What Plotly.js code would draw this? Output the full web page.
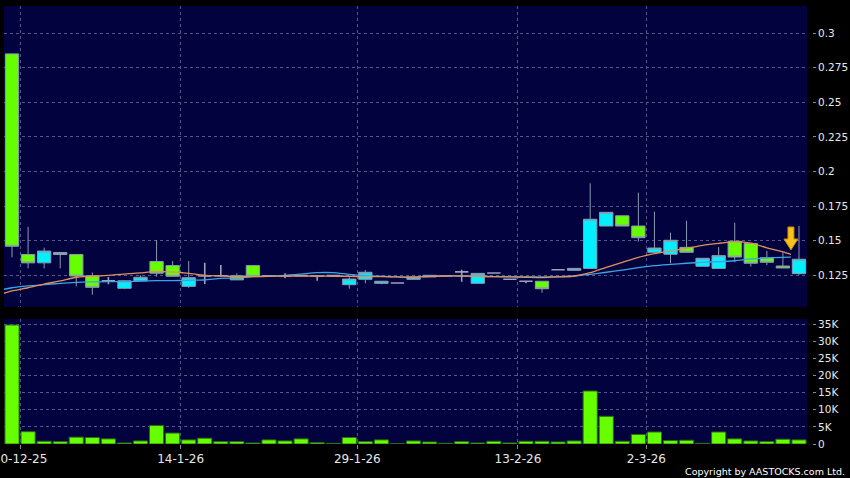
<!DOCTYPE html>
<html><head><meta charset="utf-8">
<script src="https://cdn.plot.ly/plotly-3.0.1.min.js"></script>
<style>html,body{margin:0;padding:0;background:#000;}#chart{width:850px;height:478px;}</style>
</head><body><div id="chart"></div>
<script>
// ---- data ----
const openP  = [0.285,0.140,0.134,0.1415,0.140,0.1247,0.121,0.1156,0.121,0.135,
                0.132,0.117,0.1245,0.1247,0.1247,0.132,0.1247,0.1245,0.1248,0.1245,
                0.1248,0.1182,0.1221,0.1192,0.1194,0.1221,0.1238,0.1245,0.1275,0.1192,
                0.1267,0.1221,0.1207,0.1207,0.129,0.1286,0.130,0.1606,0.168,0.1606,
                0.1416,0.1402,0.1452,0.1315,0.130,0.1496,0.148,0.1377,0.1317,0.1262];
const highP  = [0.285,0.160,0.145,0.1415,0.140,0.127,0.1238,0.1215,0.125,0.1505,
                0.1353,0.1353,0.134,0.1325,0.1264,0.132,0.1247,0.1264,0.1248,0.1245,
                0.1248,0.124,0.1288,0.1207,0.1194,0.1235,0.125,0.1245,0.129,0.1264,
                0.1267,0.1221,0.1207,0.1207,0.129,0.130,0.1915,0.1705,0.168,0.1847,
                0.171,0.1558,0.1644,0.1373,0.1454,0.163,0.148,0.1426,0.1416,0.1606];
const lowP   = [0.138,0.130,0.130,0.130,0.117,0.111,0.1185,0.115,0.121,0.124,
                0.1243,0.116,0.1187,0.1247,0.1217,0.1243,0.1247,0.1228,0.1248,0.121,
                0.1248,0.1153,0.1192,0.1185,0.1194,0.1221,0.1238,0.1245,0.1204,0.1192,
                0.1267,0.1221,0.1192,0.1124,0.129,0.1286,0.130,0.1606,0.1606,0.1493,
                0.1416,0.1337,0.1416,0.1315,0.130,0.1344,0.1312,0.1324,0.1303,0.1252];
const closeP = [0.146,0.134,0.1425,0.140,0.1245,0.1163,0.121,0.121,0.1236,0.1265,
                0.1243,0.1233,0.1245,0.1247,0.1217,0.1243,0.1247,0.1245,0.1248,0.1245,
                0.1248,0.1223,0.1272,0.1207,0.1194,0.1235,0.125,0.1245,0.1275,0.1264,
                0.1267,0.1221,0.1207,0.1153,0.129,0.130,0.1655,0.1705,0.1606,0.1522,
                0.1447,0.1503,0.1416,0.1373,0.1392,0.1382,0.1337,0.1344,0.1303,0.1366];
const volume = [34800,3600,800,700,2000,1900,1500,300,900,5400,
                3200,1200,1700,700,700,300,1200,900,1500,400,
                200,1900,700,1200,100,900,600,200,700,300,
                800,300,800,800,600,900,15500,8100,800,2800,
                3500,1000,1100,200,3500,1500,900,700,1400,1200];
// moving averages, sampled at these slot positions
const maPos = [-0.5,0,1,2,3,4,5,6,7,8,9,10,11,12,13,14,15,16,17,18,19,20,21,22,23,24,
               25,26,27,28,29,30,31,32,33,34,35,36,37,38,39,40,41,42,43,44,45,46,47,48,48.5];
const maShort = [0.1120,0.1137,0.1160,0.1187,0.1209,0.1236,0.1243,0.1250,0.1259,0.1267,0.1279,
                 0.1274,0.1264,0.1250,0.1245,0.1240,0.1240,0.1243,0.1245,0.1245,0.1245,0.1243,
                 0.1243,0.1240,0.1240,0.1238,0.1236,0.1243,0.1245,0.1245,0.1243,0.1240,0.1238,
                 0.1236,0.1233,0.1238,0.1245,0.1269,0.1308,0.1344,0.1380,0.1406,0.1426,0.1445,
                 0.1467,0.1481,0.1491,0.1483,0.1449,0.1420,0.1402];
const maLong  = [0.1149,0.1160,0.1173,0.1182,0.1192,0.1199,0.1202,0.1204,0.1204,0.1209,0.1211,
                 0.1211,0.1214,0.1216,0.1228,0.1230,0.1240,0.1245,0.1250,0.1259,0.1269,0.1269,
                 0.1257,0.1248,0.1243,0.1238,0.1238,0.1243,0.1245,0.1245,0.1243,0.1240,0.1240,
                 0.1238,0.1238,0.1240,0.1243,0.1257,0.1272,0.1288,0.1305,0.1320,0.1329,0.1337,
                 0.1344,0.1348,0.1355,0.1368,0.1375,0.1380,0.1382];
const tickIdx    = [0,10,21,31,39];
const tickLabels = ['30-12-25','14-1-26','29-1-26','13-2-26','2-3-26'];
const priceTicks = [0.125,0.15,0.175,0.2,0.225,0.25,0.275,0.3];
const volTicks   = [0,5000,10000,15000,20000,25000,30000,35000];
const volLabels  = ['0','5K','10K','15K','20K','25K','30K','35K'];
const signal = {idx: 48.5, price: 0.1433};

// ---- build traces ----
const idx = openP.map((_, i) => i);
function subset(test) {
  const s = {x:[],open:[],high:[],low:[],close:[]};
  idx.forEach(i => { if (test(openP[i], closeP[i])) {
    s.x.push(i); s.open.push(openP[i]); s.high.push(highP[i]); s.low.push(lowP[i]); s.close.push(closeP[i]); }});
  return s;
}
function candle(s, fill, line, w) {
  return Object.assign({type:'candlestick', xaxis:'x', yaxis:'y', hoverinfo:'skip', whiskerwidth:0,
    increasing:{line:{color:line,width:w}, fillcolor:fill},
    decreasing:{line:{color:line,width:w}, fillcolor:fill}}, s);
}
const up = subset((o,c) => c > o), dn = subset((o,c) => c < o), dj = subset((o,c) => c === o);
const traces = [
  {type:'bar', x:idx, y:volume, xaxis:'x', yaxis:'y2', marker:{color:'#66ff00', line:{color:'#2c6a14', width:1}}, hoverinfo:'skip'},
  candle(up, '#00f0ff', '#8c9cb4', 1),
  candle(dn, '#66ff00', '#8c9cb4', 1),
  candle(dj, '#a0a0bc', '#a0a0bc', 1.6),
  {type:'scatter', mode:'lines', x:maPos, y:maLong, xaxis:'x', yaxis:'y', line:{color:'#3ca4e8', width:1.3, shape:'spline', smoothing:0.6}, hoverinfo:'skip'},
  {type:'scatter', mode:'lines', x:maPos, y:maShort, xaxis:'x', yaxis:'y', line:{color:'#e0905c', width:1.3, shape:'spline', smoothing:0.6}, hoverinfo:'skip'}
];

const grid = '#56568c';
const tickFont = {family:'DejaVu Sans', size:12, color:'#e8e8e8'};
const layout = {
  width:850, height:478, showlegend:false,
  margin:{l:4, r:35, t:6, b:34},
  paper_bgcolor:'#000000', plot_bgcolor:'#02023e',
  boxgap:0.17, boxgroupgap:0,
  bargap:0.12,
  xaxis:{domain:[0, 803/811], range:[-0.5, 49.5], anchor:'y2',
    tickmode:'array', tickvals:tickIdx.map(v => v + 0.5), ticktext:tickLabels,
    ticks:'outside', ticklen:4, tickcolor:'#8a8a8a', tickfont:tickFont, ticklabeloverflow:'allow',
    showgrid:true, gridcolor:grid, griddash:'3px,3px', gridwidth:1, zeroline:false, showline:false,
    rangeslider:{visible:false}, fixedrange:true},
  yaxis:{domain:[0.3128, 1], range:[0.1021, 0.3196], anchor:'free', position:0.9963, side:'right',
    tickmode:'array', tickvals:priceTicks, ticks:'outside', ticklen:3, tickcolor:'#8a8a8a',
    tickfont:Object.assign({}, tickFont, {size:10.5}),
    showgrid:true, gridcolor:grid, griddash:'3px,3px', zeroline:false, showline:false, fixedrange:true},
  yaxis2:{domain:[0, 0.2854], range:[0, 36550], anchor:'free', position:0.9963, side:'right',
    tickmode:'array', tickvals:volTicks, ticktext:volLabels, ticks:'outside', ticklen:3, tickcolor:'#8a8a8a',
    tickfont:Object.assign({}, tickFont, {size:10.5}),
    showgrid:true, gridcolor:grid, griddash:'3px,3px', zeroline:false, showline:false, fixedrange:true},
  shapes:[{type:'path', xref:'x', yref:'y', xsizemode:'pixel', ysizemode:'pixel',
    xanchor:signal.idx, yanchor:signal.price,
    path:'M0,0 L-7,11 L-3,11 L-3,23 L3,23 L3,11 L7,11 Z',
    fillcolor:'#f7c21a', line:{color:'#c8860c', width:1}}],
  annotations:[{text:'Copyright by AASTOCKS.com Ltd.', xref:'paper', yref:'paper',
    x:(847-4)/811, y:-(471.5-444)/438, xanchor:'right', yanchor:'middle', showarrow:false,
    font:{family:'DejaVu Sans', size:9.5, color:'#ffffff'}}]
};
Plotly.newPlot('chart', traces, layout, {displayModeBar:false, staticPlot:true});
</script></body></html>
